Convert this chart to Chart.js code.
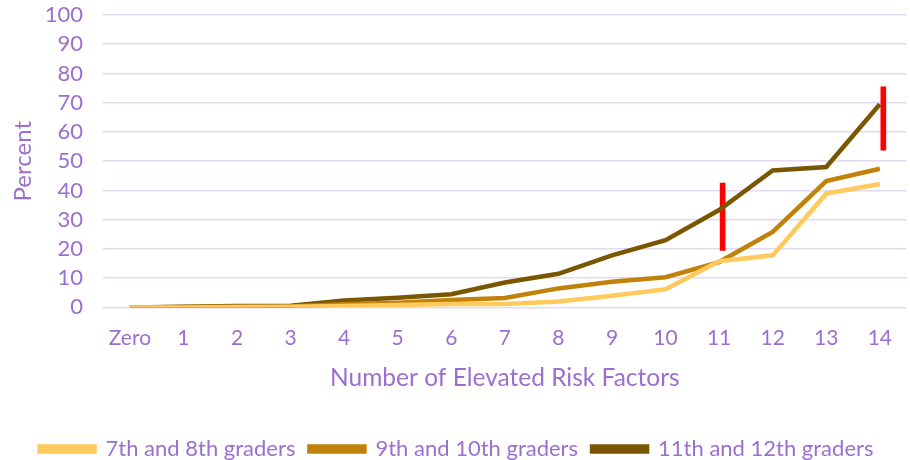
<!DOCTYPE html>
<html lang="en">
<head>
    <meta charset="UTF-8">
    <title>Elevated Risk Factors</title>
    <style>
        body { margin: 0; background: #ffffff; }
        #riskChart { display: block; }
    </style>
</head>
<body>
    <canvas id="riskChart" width="910" height="460"></canvas>

    <script src="https://cdn.jsdelivr.net/npm/chart.js"></script>
    <script>
        // data
        const categories = ['Zero', '1', '2', '3', '4', '5', '6', '7', '8', '9', '10', '11', '12', '13', '14'];
        const grade78 = [0, 0, 0.1, 0.2, 0.5, 0.8, 1.2, 1.2, 2, 4, 6.2, 15.8, 17.8, 38.9, 42.2];
        const grade910 = [0, 0.1, 0.2, 0.3, 1.1, 1.6, 2.5, 3.2, 6.5, 8.8, 10.3, 15.5, 25.8, 43.2, 47.4];
        const grade1112 = [0, 0.2, 0.5, 0.6, 2.4, 3.3, 4.5, 8.5, 11.5, 17.8, 23, 33.3, 46.8, 48, 69.5];
        const redRanges = [null, null, null, null, null, null, null, null, null, null, null, [19.5, 42.5], null, null, [53.8, 75.4]];
        const emptyBars = categories.map(() => null);
        const yTicks = [0, 10, 20, 30, 40, 50, 60, 70, 80, 90, 100];

        const purple = '#9b6fcf';
        const fontFamily = "Lato, 'Open Sans', sans-serif";

        const ctx = document.getElementById('riskChart').getContext('2d');

        new Chart(ctx, {
            type: 'line',
            data: {
                labels: categories,
                datasets: [
                    {
                        label: '7th and 8th graders',
                        data: grade78,
                        borderColor: '#ffc95c',
                        backgroundColor: '#ffc95c',
                        borderWidth: 4.5,
                        pointRadius: 0,
                        tension: 0
                    },
                    {
                        label: '9th and 10th graders',
                        data: grade910,
                        borderColor: '#c08208',
                        backgroundColor: '#c08208',
                        borderWidth: 4.5,
                        pointRadius: 0,
                        tension: 0
                    },
                    {
                        label: '11th and 12th graders',
                        data: grade1112,
                        borderColor: '#7a5600',
                        backgroundColor: '#7a5600',
                        borderWidth: 4.5,
                        pointRadius: 0,
                        tension: 0
                    },
                    {
                        // empty slot so the red bars sit a little right of the tick
                        type: 'bar',
                        label: 'spacer',
                        data: emptyBars,
                        barThickness: 7
                    },
                    {
                        type: 'bar',
                        label: 'range',
                        data: redRanges,
                        backgroundColor: '#ff0000',
                        barThickness: 7,
                        maxBarThickness: 5
                    }
                ]
            },
            options: {
                responsive: false,
                animation: false,
                layout: { padding: { left: 3, right: 0, top: 0, bottom: -10 } },
                scales: {
                    x: {
                        offset: true,
                        grid: { display: false, drawTicks: false },
                        border: { display: false },
                        ticks: {
                            color: purple,
                            font: { family: fontFamily, size: 21 },
                            padding: 18,
                            maxRotation: 0,
                            autoSkip: false
                        },
                        title: {
                            display: true,
                            text: 'Number of Elevated Risk Factors',
                            color: purple,
                            font: { family: fontFamily, size: 24.5 },
                            padding: { top: -5, bottom: 31 }
                        }
                    },
                    y: {
                        min: 0,
                        max: 100,
                        afterBuildTicks: axis => { axis.ticks = yTicks.map(v => ({ value: v })); },
                        // tick padding also pads the top, keep only room for the top label
                        afterFit: axis => { axis.paddingTop = 15; axis.paddingBottom = 0; },
                        grid: { color: '#e3daf2', lineWidth: 1.5, drawTicks: false },
                        border: { display: false },
                        ticks: {
                            color: purple,
                            font: { family: fontFamily, size: 22 },
                            padding: 20,
                            autoSkip: false
                        },
                        title: {
                            display: true,
                            text: 'Percent',
                            color: purple,
                            font: { family: fontFamily, size: 24 },
                            padding: { top: 6, bottom: -13 }
                        }
                    }
                },
                plugins: {
                    legend: {
                        position: 'bottom',
                        labels: {
                            filter: item => item.text !== 'range' && item.text !== 'spacer',
                            color: purple,
                            font: { family: fontFamily, size: 22 },
                            boxWidth: 55,
                            boxHeight: 5,
                            padding: 14
                        }
                    },
                    tooltip: { enabled: false }
                }
            }
        });
    </script>
</body>
</html>
